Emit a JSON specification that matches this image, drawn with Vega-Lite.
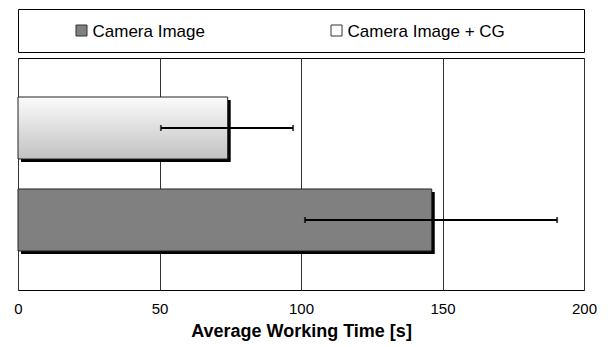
{
  "$schema": "https://vega.github.io/schema/vega-lite/v6.json",
  "autosize": {"type": "pad"},
  "padding": {"left": 13, "top": 8, "right": 5, "bottom": 0},
  "config": {
    "font": "Liberation Sans",
    "view": {"stroke": "#000000", "strokeWidth": 1},
    "concat": {"spacing": 4}
  },
  "datasets": {
    "bars": [
      {"series": "Camera Image", "mean": 146.2, "lo": 101.4, "hi": 190.5},
      {"series": "Camera Image + CG", "mean": 74.1, "lo": 50.5, "hi": 97.2}
    ]
  },
  "vconcat": [
    {
      "width": 566,
      "height": 43,
      "data": {"name": "bars"},
      "layer": [
        {
          "mark": {"type": "point", "shape": "square", "size": 121, "filled": true, "stroke": "#333333", "strokeWidth": 1, "opacity": 1},
          "encoding": {
            "x": {"field": "series", "type": "nominal", "axis": null, "sort": ["Camera Image", "Camera Image + CG"], "scale": {"type": "point", "range": [63.5, 318.5], "padding": 0}},
            "color": {"field": "series", "type": "nominal", "legend": null, "scale": {"domain": ["Camera Image", "Camera Image + CG"], "range": ["#808080", "#ffffff"]}}
          }
        },
        {
          "mark": {"type": "text", "align": "left", "baseline": "middle", "dx": 11, "dy": 1, "fontSize": 17, "color": "#000000"},
          "encoding": {
            "x": {"field": "series", "type": "nominal", "axis": null, "sort": ["Camera Image", "Camera Image + CG"], "scale": {"type": "point", "range": [63.5, 318.5], "padding": 0}},
            "text": {"field": "series"}
          }
        }
      ]
    },
    {
      "width": 566,
      "height": 232,
      "data": {"name": "bars"},
      "encoding": {
        "y": {"field": "series", "type": "nominal", "axis": null, "sort": ["Camera Image + CG", "Camera Image"], "scale": {"paddingInner": 0.326, "paddingOuter": 0.424}}
      },
      "layer": [
        {
          "mark": {"type": "bar", "color": "#000000", "xOffset": 3, "yOffset": 3, "y2Offset": 3},
          "encoding": {
            "x": {"field": "mean", "type": "quantitative", "scale": {"domain": [0, 200], "nice": false},
              "axis": {"values": [0, 50, 100, 150, 200], "grid": true, "gridColor": "#333333", "gridWidth": 1, "domain": false, "ticks": false, "labelFontSize": 15, "labelPadding": 11, "labelColor": "#000000", "labelFlush": false, "title": "Average Working Time [s]", "titleFontSize": 18, "titleFontWeight": "bold", "titleColor": "#000000", "titlePadding": 6}}
          }
        },
        {
          "transform": [{"filter": "datum.series === 'Camera Image'"}],
          "mark": {"type": "bar", "fill": "#808080", "stroke": "#222222", "strokeWidth": 1},
          "encoding": {"x": {"field": "mean", "type": "quantitative"}}
        },
        {
          "transform": [{"filter": "datum.series === 'Camera Image + CG'"}],
          "mark": {"type": "bar", "stroke": "#222222", "strokeWidth": 1,
            "fill": {"gradient": "linear", "x1": 0, "y1": 0, "x2": 0, "y2": 1, "stops": [{"offset": 0, "color": "#fbfbfb"}, {"offset": 1, "color": "#c2c2c2"}]}},
          "encoding": {"x": {"field": "mean", "type": "quantitative"}}
        },
        {
          "mark": {"type": "rule", "color": "#000000", "strokeWidth": 2},
          "encoding": {"x": {"field": "lo", "type": "quantitative"}, "x2": {"field": "hi"}}
        },
        {
          "mark": {"type": "tick", "color": "#000000", "size": 6, "thickness": 2, "orient": "vertical"},
          "encoding": {"x": {"field": "lo", "type": "quantitative"}}
        },
        {
          "mark": {"type": "tick", "color": "#000000", "size": 6, "thickness": 2, "orient": "vertical"},
          "encoding": {"x": {"field": "hi", "type": "quantitative"}}
        }
      ]
    }
  ]
}
